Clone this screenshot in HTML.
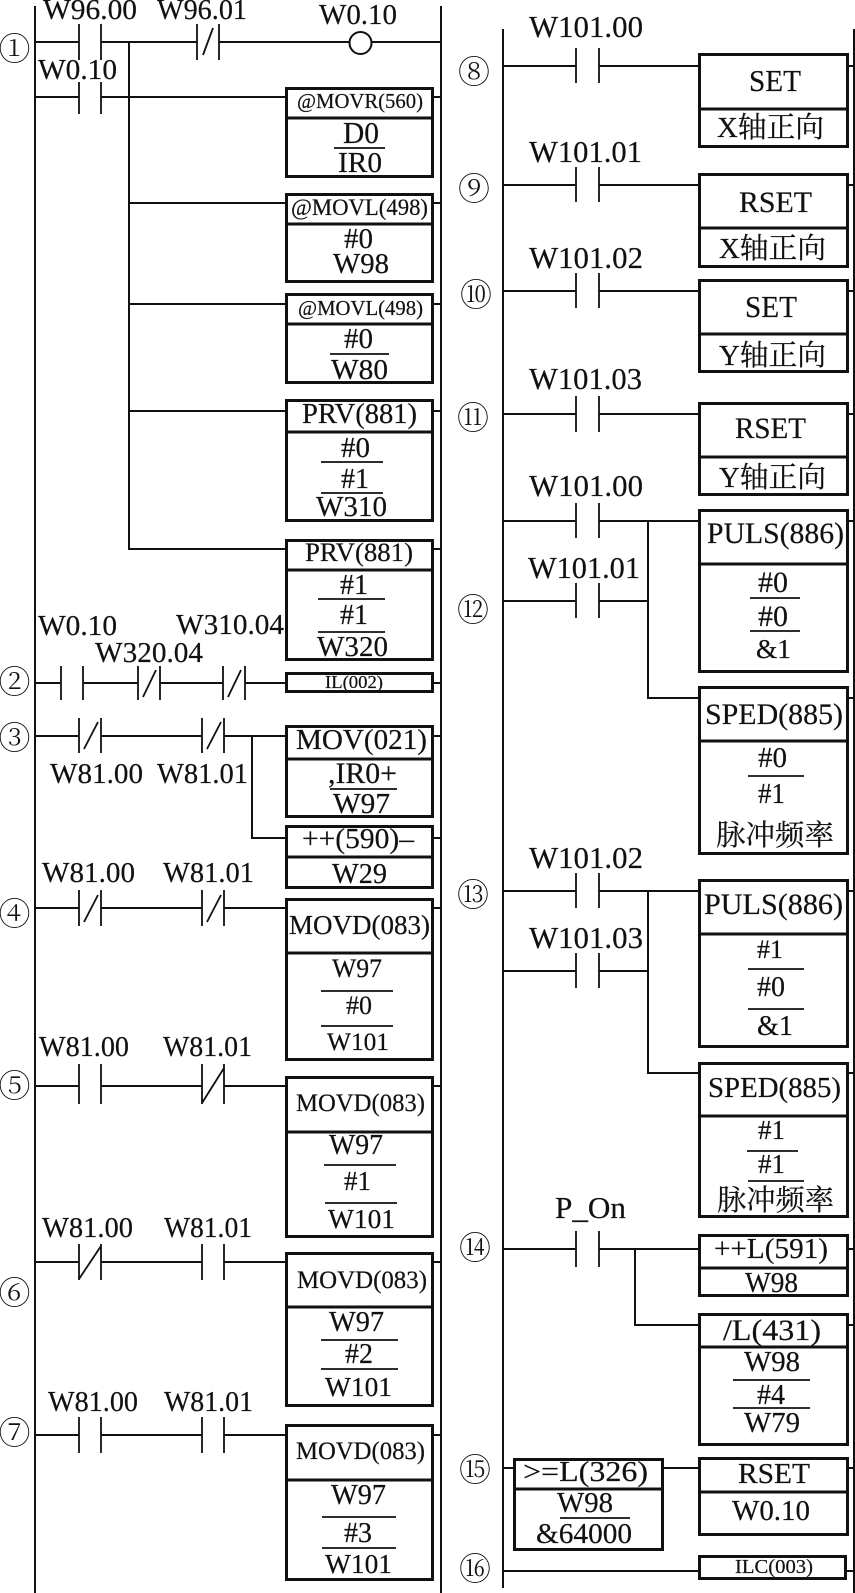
<!DOCTYPE html>
<html lang="zh"><head><meta charset="utf-8"><title>Ladder diagram</title>
<style>
html,body{margin:0;padding:0;background:#fff}
svg{display:block}
text{font-family:"Liberation Serif","Noto Serif CJK SC",serif;fill:#111;font-size:29px;stroke:#111;stroke-width:.2}
.f18{font-size:18px}.f20{font-size:20px}.f21{font-size:21px}.f23{font-size:23px}.f25{font-size:25px}.f26{font-size:26px}.f27{font-size:27px}.f28{font-size:28px}.f30{font-size:30px}.f31{font-size:31px}
.c{font-family:"Noto Serif CJK SC","Liberation Serif",serif;font-size:32px;text-anchor:middle;font-weight:300;stroke-width:0}
.w{stroke:#111;stroke-width:2;fill:none}
.k{stroke:#111;stroke-width:1.8;fill:none}
.b{stroke:#111;stroke-width:3;fill:#fff}
</style></head><body>
<svg xmlns="http://www.w3.org/2000/svg" width="855" height="1593" viewBox="0 0 855 1593">
<rect width="855" height="1593" fill="#fff"/>
<path class="w" d="M35 6V1593M441 6V1593M503 29V1588M854 29V1593
M35 42H79M101 42H197M219 42H349M372 42H441M129 42V549H285M35 97H79M101 97H285M129 203H285M129 304H285M129 411H285
M434 97H441M434 203H441M434 304H441M434 411H441M434 549H441M434 683H441M434 736H441M434 838H441M434 908H441M434 1086H441M434 1262H441M434 1435H441
M35 683H61M83 683H138M160 683H223M245 683H285
M35 736H79M101 736H202M224 736H285M252 736V838H285
M35 908H79M101 908H202M224 908H285
M35 1086H79M101 1086H202M224 1086H285
M35 1262H79M101 1262H202M224 1262H285
M35 1435H79M101 1435H202M224 1435H285
M503 66H576M599 66H698M849 66H854M503 185H576M599 185H698M849 185H854M503 291H576M599 291H698M849 291H854M503 414H576M599 414H698M849 414H854
M503 521H576M599 521H698M849 521H854M648 521V698H698M849 698H854M503 601H576M599 601H648
M503 891H576M599 891H698M849 891H854M648 891V1073H698M849 1073H854M503 971H576M599 971H648
M503 1249H576M599 1249H698M849 1249H854M635 1249V1325H698M849 1325H854
M503 1468H513M664 1468H698M849 1468H854M503 1571H698M847 1571H854"/>
<!-- contacts -->
<path class="k" d="M79 24V60M101 24V60M197 24V60M219 24V60M203 55L213 28
M79 82V114M101 82V114
M61 666V700M83 666V700M138 666V700M160 666V700M143 697L156 670M223 666V700M245 666V700M228 697L241 670
M79 718V753M101 718V753M84 749L98 722M202 718V753M224 718V753M207 749L221 722
M79 890V926M101 890V926M84 922L98 895M202 890V926M224 890V926M207 922L221 895
M79 1064V1104M101 1064V1104M202 1064V1104M224 1064V1104M202 1103L224 1068
M79 1244V1280M101 1244V1280M79 1279L101 1246M202 1244V1280M224 1244V1280
M79 1417V1453M101 1417V1453M202 1417V1453M224 1417V1453
M576 48V83M599 48V83M576 167V202M599 167V202M576 273V308M599 273V308M576 396V432M599 396V432
M576 503V538M599 503V538M576 583V618M599 583V618M576 873V908M599 873V908M576 953V988M599 953V988M576 1231V1267M599 1231V1267"/>
<circle cx="360.5" cy="43" r="11" fill="#fff" stroke="#111" stroke-width="2"/>
<!-- boxes -->
<g class="b">
<path d="M286.5 88.5H432.500V176.500H286.500ZM286.500 118H432.500"/>
<path d="M286.500 194.500H432.500V281.500H286.500ZM286.500 224H432.500"/>
<path d="M286.500 294.500H432.500V382.500H286.500ZM286.500 324H432.500"/>
<path d="M286.500 400.500H432.500V520.500H286.500ZM286.500 432H432.500"/>
<path d="M286.500 540.500H432.500V659.500H286.500ZM286.500 570H432.500"/>
<path d="M286.500 673.500H432.500V691.500H286.500Z"/>
<path d="M286.500 726.500H432.500V816.500H286.500ZM286.500 759H432.500"/>
<path d="M286.500 826.500H432.500V887.500H286.500ZM286.500 857H432.500"/>
<path d="M286.500 899.500H432.500V1059.500H286.500ZM286.500 953H432.500"/>
<path d="M286.500 1077.500H432.500V1236.500H286.500ZM286.500 1132H432.500"/>
<path d="M286.500 1253.500H432.500V1405.500H286.500ZM286.500 1307H432.500"/>
<path d="M286.500 1425.500H432.500V1579.500H286.500ZM286.500 1480H432.500"/>
<path d="M699.500 54.500H847.500V146.500H699.500ZM699.500 109H847.500"/>
<path d="M699.500 174.500H847.500V266.500H699.500ZM699.500 228H847.500"/>
<path d="M699.500 280.500H847.500V371.500H699.500ZM699.500 334H847.500"/>
<path d="M699.500 403.500H847.500V494.500H699.500ZM699.500 457H847.500"/>
<path d="M699.500 510.500H847.500V671.500H699.500ZM699.500 564H847.500"/>
<path d="M699.500 687.500H847.500V853.500H699.500ZM699.500 741H847.500"/>
<path d="M699.500 880.500H847.500V1046.500H699.500ZM699.500 934H847.500"/>
<path d="M699.500 1063.500H847.500V1216.500H699.500ZM699.500 1116H847.500"/>
<path d="M699.500 1235.500H847.500V1295.500H699.500ZM699.500 1268H847.500"/>
<path d="M699.500 1314.500H847.500V1444.500H699.500ZM699.500 1347H847.500"/>
<path d="M514.500 1459.500H662.500V1549.500H514.500ZM514.500 1489H662.500"/>
<path d="M699.500 1458.500H847.500V1534.500H699.500ZM699.500 1492H847.500"/>
<path d="M699.500 1556.500H845.500V1578.500H699.500Z"/>
</g>
<!-- operand separators -->
<path class="k" d="M334 148H385M330 354H389M321 462H383M321 493H383M318 599H385M318 632H385M330 789H397M321 991H393M321 1026H393M324 1165H396M325 1203H397M321 1340H398M321 1369H398M322 1517H396M322 1548H396
M750 598H800M750 631H800M748 776H804M748 969H804M748 1009H804M747 1151H798M748 1181H804M733 1380H810M733 1408H810M560 1518H630"/>
<!-- labels -->
<text x="43" y="19" textLength="94" lengthAdjust="spacingAndGlyphs">W96.00</text>
<text x="157" y="19" textLength="90" lengthAdjust="spacingAndGlyphs">W96.01</text>
<text x="319" y="24" textLength="78" lengthAdjust="spacingAndGlyphs">W0.10</text>
<text x="38" y="79" textLength="79" lengthAdjust="spacingAndGlyphs">W0.10</text>
<text class="f21" x="297" y="108" textLength="126" lengthAdjust="spacingAndGlyphs">@MOVR(560)</text>
<text class="f31" x="343" y="143" textLength="36" lengthAdjust="spacingAndGlyphs">D0</text>
<text x="338" y="172" textLength="44" lengthAdjust="spacingAndGlyphs">IR0</text>
<text class="f23" x="291" y="215" textLength="137" lengthAdjust="spacingAndGlyphs">@MOVL(498)</text>
<text x="344" y="248" textLength="29" lengthAdjust="spacingAndGlyphs">#0</text>
<text x="333" y="273" textLength="56" lengthAdjust="spacingAndGlyphs">W98</text>
<text class="f21" x="298" y="315" textLength="125" lengthAdjust="spacingAndGlyphs">@MOVL(498)</text>
<text x="344" y="348" textLength="29" lengthAdjust="spacingAndGlyphs">#0</text>
<text x="331" y="379" textLength="57" lengthAdjust="spacingAndGlyphs">W80</text>
<text class="f28" x="302" y="423" textLength="115" lengthAdjust="spacingAndGlyphs">PRV(881)</text>
<text x="341" y="457" textLength="29" lengthAdjust="spacingAndGlyphs">#0</text>
<text x="341" y="488" textLength="28" lengthAdjust="spacingAndGlyphs">#1</text>
<text x="316" y="516" textLength="71" lengthAdjust="spacingAndGlyphs">W310</text>
<text class="f26" x="305" y="561" textLength="108" lengthAdjust="spacingAndGlyphs">PRV(881)</text>
<text x="340" y="594" textLength="28" lengthAdjust="spacingAndGlyphs">#1</text>
<text x="340" y="624" textLength="28" lengthAdjust="spacingAndGlyphs">#1</text>
<text x="317" y="656" textLength="71" lengthAdjust="spacingAndGlyphs">W320</text>
<text x="38" y="635" textLength="79" lengthAdjust="spacingAndGlyphs">W0.10</text>
<text x="95" y="662" textLength="108" lengthAdjust="spacingAndGlyphs">W320.04</text>
<text x="176" y="634" textLength="108" lengthAdjust="spacingAndGlyphs">W310.04</text>
<text class="f18" x="325" y="688" textLength="58" lengthAdjust="spacingAndGlyphs">IL(002)</text>
<text x="50" y="783" textLength="93" lengthAdjust="spacingAndGlyphs">W81.00</text>
<text x="157" y="783" textLength="91" lengthAdjust="spacingAndGlyphs">W81.01</text>
<text x="296" y="749" textLength="131" lengthAdjust="spacingAndGlyphs">MOV(021)</text>
<text class="f30" x="328" y="783" textLength="69" lengthAdjust="spacingAndGlyphs">,IR0+</text>
<text x="333" y="813" textLength="57" lengthAdjust="spacingAndGlyphs">W97</text>
<text x="302" y="848" textLength="112" lengthAdjust="spacingAndGlyphs">++(590)–</text>
<text class="f28" x="332" y="883" textLength="55" lengthAdjust="spacingAndGlyphs">W29</text>
<text x="42" y="882" textLength="93" lengthAdjust="spacingAndGlyphs">W81.00</text>
<text x="163" y="882" textLength="91" lengthAdjust="spacingAndGlyphs">W81.01</text>
<text class="f27" x="289" y="934" textLength="141" lengthAdjust="spacingAndGlyphs">MOVD(083)</text>
<text class="f26" x="332" y="977" textLength="50" lengthAdjust="spacingAndGlyphs">W97</text>
<text class="f26" x="346" y="1014" textLength="26" lengthAdjust="spacingAndGlyphs">#0</text>
<text class="f25" x="327" y="1050" textLength="62" lengthAdjust="spacingAndGlyphs">W101</text>
<text x="39" y="1056" textLength="90" lengthAdjust="spacingAndGlyphs">W81.00</text>
<text x="163" y="1056" textLength="89" lengthAdjust="spacingAndGlyphs">W81.01</text>
<text class="f25" x="296" y="1111" textLength="129" lengthAdjust="spacingAndGlyphs">MOVD(083)</text>
<text class="f28" x="329" y="1154" textLength="54" lengthAdjust="spacingAndGlyphs">W97</text>
<text class="f27" x="344" y="1190" textLength="27" lengthAdjust="spacingAndGlyphs">#1</text>
<text class="f27" x="328" y="1228" textLength="67" lengthAdjust="spacingAndGlyphs">W101</text>
<text x="42" y="1237" textLength="91" lengthAdjust="spacingAndGlyphs">W81.00</text>
<text x="164" y="1237" textLength="88" lengthAdjust="spacingAndGlyphs">W81.01</text>
<text class="f25" x="297" y="1288" textLength="130" lengthAdjust="spacingAndGlyphs">MOVD(083)</text>
<text class="f28" x="329" y="1331" textLength="55" lengthAdjust="spacingAndGlyphs">W97</text>
<text class="f28" x="345" y="1363" textLength="28" lengthAdjust="spacingAndGlyphs">#2</text>
<text class="f27" x="325" y="1396" textLength="67" lengthAdjust="spacingAndGlyphs">W101</text>
<text x="48" y="1411" textLength="90" lengthAdjust="spacingAndGlyphs">W81.00</text>
<text x="164" y="1411" textLength="89" lengthAdjust="spacingAndGlyphs">W81.01</text>
<text class="f25" x="296" y="1459" textLength="129" lengthAdjust="spacingAndGlyphs">MOVD(083)</text>
<text class="f28" x="331" y="1504" textLength="55" lengthAdjust="spacingAndGlyphs">W97</text>
<text class="f28" x="344" y="1542" textLength="28" lengthAdjust="spacingAndGlyphs">#3</text>
<text class="f27" x="325" y="1573" textLength="67" lengthAdjust="spacingAndGlyphs">W101</text>
<!-- right column -->
<text class="f31" x="529" y="37" textLength="114" lengthAdjust="spacingAndGlyphs">W101.00</text>
<text class="f31" x="749" y="91" textLength="52" lengthAdjust="spacingAndGlyphs">SET</text>
<text x="717" y="137" textLength="107" lengthAdjust="spacingAndGlyphs">X轴正向</text>
<text class="f31" x="529" y="162" textLength="113" lengthAdjust="spacingAndGlyphs">W101.01</text>
<text class="f30" x="739" y="212" textLength="73" lengthAdjust="spacingAndGlyphs">RSET</text>
<text x="719" y="258" textLength="107" lengthAdjust="spacingAndGlyphs">X轴正向</text>
<text class="f31" x="529" y="268" textLength="114" lengthAdjust="spacingAndGlyphs">W101.02</text>
<text class="f31" x="745" y="317" textLength="52" lengthAdjust="spacingAndGlyphs">SET</text>
<text x="719" y="365" textLength="107" lengthAdjust="spacingAndGlyphs">Y轴正向</text>
<text class="f31" x="529" y="389" textLength="113" lengthAdjust="spacingAndGlyphs">W101.03</text>
<text class="f30" x="735" y="438" textLength="71" lengthAdjust="spacingAndGlyphs">RSET</text>
<text x="719" y="487" textLength="107" lengthAdjust="spacingAndGlyphs">Y轴正向</text>
<text class="f31" x="529" y="496" textLength="114" lengthAdjust="spacingAndGlyphs">W101.00</text>
<text class="f31" x="528" y="578" textLength="112" lengthAdjust="spacingAndGlyphs">W101.01</text>
<text class="f30" x="707" y="543" textLength="137" lengthAdjust="spacingAndGlyphs">PULS(886)</text>
<text class="f30" x="758" y="592" textLength="30" lengthAdjust="spacingAndGlyphs">#0</text>
<text class="f30" x="758" y="626" textLength="30" lengthAdjust="spacingAndGlyphs">#0</text>
<text class="f27" x="756" y="658" textLength="35" lengthAdjust="spacingAndGlyphs">&amp;1</text>
<text class="f30" x="705" y="724" textLength="138" lengthAdjust="spacingAndGlyphs">SPED(885)</text>
<text x="758" y="767" textLength="29" lengthAdjust="spacingAndGlyphs">#0</text>
<text class="f28" x="758" y="803" textLength="27" lengthAdjust="spacingAndGlyphs">#1</text>
<text x="716" y="845" textLength="118" lengthAdjust="spacingAndGlyphs">脉冲频率</text>
<text class="f31" x="529" y="868" textLength="114" lengthAdjust="spacingAndGlyphs">W101.02</text>
<text class="f31" x="529" y="948" textLength="114" lengthAdjust="spacingAndGlyphs">W101.03</text>
<text class="f30" x="704" y="914" textLength="139" lengthAdjust="spacingAndGlyphs">PULS(886)</text>
<text class="f26" x="757" y="958" textLength="26" lengthAdjust="spacingAndGlyphs">#1</text>
<text class="f28" x="757" y="996" textLength="28" lengthAdjust="spacingAndGlyphs">#0</text>
<text class="f28" x="757" y="1035" textLength="36" lengthAdjust="spacingAndGlyphs">&amp;1</text>
<text x="708" y="1097" textLength="133" lengthAdjust="spacingAndGlyphs">SPED(885)</text>
<text class="f27" x="758" y="1139" textLength="27" lengthAdjust="spacingAndGlyphs">#1</text>
<text class="f27" x="758" y="1173" textLength="27" lengthAdjust="spacingAndGlyphs">#1</text>
<text x="717" y="1210" textLength="117" lengthAdjust="spacingAndGlyphs">脉冲频率</text>
<text class="f31" x="555" y="1218" textLength="71" lengthAdjust="spacingAndGlyphs">P_On</text>
<text x="714" y="1258" textLength="114" lengthAdjust="spacingAndGlyphs">++L(591)</text>
<text x="745" y="1292" textLength="53" lengthAdjust="spacingAndGlyphs">W98</text>
<text class="f30" x="723" y="1340" textLength="98" lengthAdjust="spacingAndGlyphs">/L(431)</text>
<text x="744" y="1371" textLength="56" lengthAdjust="spacingAndGlyphs">W98</text>
<text class="f28" x="757" y="1404" textLength="28" lengthAdjust="spacingAndGlyphs">#4</text>
<text x="744" y="1432" textLength="56" lengthAdjust="spacingAndGlyphs">W79</text>
<text class="f28" x="523" y="1481" textLength="125" lengthAdjust="spacingAndGlyphs">&gt;=L(326)</text>
<text x="557" y="1512" textLength="56" lengthAdjust="spacingAndGlyphs">W98</text>
<text x="536" y="1543" textLength="96" lengthAdjust="spacingAndGlyphs">&amp;64000</text>
<text x="738" y="1483" textLength="72" lengthAdjust="spacingAndGlyphs">RSET</text>
<text x="732" y="1520" textLength="78" lengthAdjust="spacingAndGlyphs">W0.10</text>
<text class="f20" x="735" y="1573" textLength="78" lengthAdjust="spacingAndGlyphs">ILC(003)</text>
<!-- rung numbers -->
<text class="c" x="14.500" y="60">①</text>
<text class="c" x="14.500" y="693">②</text>
<text class="c" x="14.500" y="749">③</text>
<text class="c" x="14.500" y="925">④</text>
<text class="c" x="14.500" y="1097">⑤</text>
<text class="c" x="14.500" y="1304">⑥</text>
<text class="c" x="14.500" y="1444">⑦</text>
<text class="c" x="474" y="83">⑧</text>
<text class="c" x="474" y="200">⑨</text>
<text class="c" x="476" y="306">⑩</text>
<text class="c" x="473" y="429">⑪</text>
<text class="c" x="473" y="621">⑫</text>
<text class="c" x="473" y="906">⑬</text>
<text class="c" x="475" y="1259">⑭</text>
<text class="c" x="475" y="1481">⑮</text>
<text class="c" x="475" y="1580">⑯</text>
</svg>
</body></html>
